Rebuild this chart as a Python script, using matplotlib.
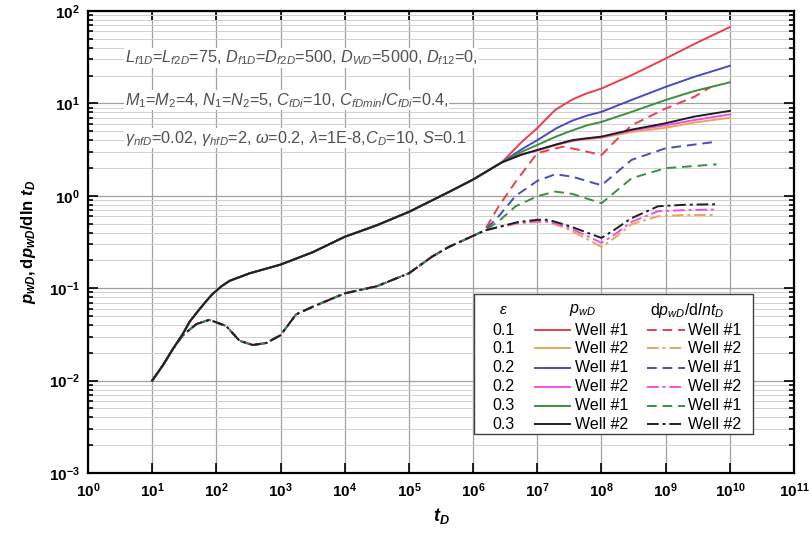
import matplotlib
matplotlib.use("Agg")
import matplotlib.pyplot as plt
from matplotlib.patches import Rectangle
from matplotlib.ticker import FuncFormatter
import numpy as np

plt.rcParams['font.family'] = ['Liberation Sans', 'DejaVu Sans']
plt.rcParams['mathtext.fontset'] = 'custom'
plt.rcParams['mathtext.rm'] = 'Liberation Sans'
plt.rcParams['mathtext.it'] = 'Liberation Sans:italic'
plt.rcParams['mathtext.bf'] = 'Liberation Sans:bold'
plt.rcParams['mathtext.bfit'] = 'Liberation Sans:bold:italic'

# early time part, identical for every case
tEarlyP = [10, 15, 21, 30, 38, 50, 70, 85, 100, 120, 160, 330, 1e3, 3.16e3, 1e4, 3.16e4, 1e5, 4.2e5, 1e6, 2.8e6]
pEarly = [0.010, 0.015, 0.022, 0.032, 0.043, 0.055, 0.073, 0.085, 0.094, 0.105, 0.12, 0.145, 0.18, 0.245, 0.36, 0.48, 0.67, 1.1, 1.5, 2.3]
tEarlyD = [10, 15, 21, 30, 49, 78, 142, 229, 369, 596, 1e3, 1.74e3, 3.16e3, 1e4, 3.16e4, 1e5, 2.3e5, 4.2e5, 8.5e5, 1.5e6]
dEarly = [0.010, 0.015, 0.022, 0.031, 0.041, 0.0455, 0.039, 0.027, 0.0243, 0.0255, 0.031, 0.052, 0.063, 0.088, 0.105, 0.145, 0.22, 0.28, 0.35, 0.42]

# late time pwD
tLateRed = [5.75e6, 1e7, 1.9e7, 3.5e7, 5.5e7, 1e8, 2.95e8, 1e9, 2.8e9, 1e10]
pRed = [3.85, 5.4, 8.5, 11.0, 12.6, 14.5, 20.2, 30.6, 44, 67]
tLateP = [5.75e6, 1e7, 2e7, 3.5e7, 6e7, 1e8, 2.95e8, 1e9, 2.8e9, 1e10]
pOrange = [2.8, 3.1, 3.55, 3.9, 4.1, 4.25, 4.9, 5.45, 6.2, 7.0]
pBlue = [3.2, 4.0, 5.4, 6.5, 7.4, 8.1, 10.9, 15.1, 19.4, 25.5]
pPink = [2.8, 3.1, 3.6, 3.95, 4.15, 4.3, 5.1, 5.8, 6.6, 7.6]
pGreen = [3.0, 3.55, 4.4, 5.1, 5.8, 6.3, 8.1, 10.9, 13.6, 16.9]
pBlack = [2.8, 3.13, 3.6, 4.0, 4.2, 4.37, 5.2, 6.1, 7.2, 8.3]

# late time derivative
tLateRedD = [2.5e6, 4.6e6, 1e7, 2.5e7, 4.9e7, 1e8, 1.6e8, 2.95e8, 1e9, 2.8e9, 5.1e9]
dRed = [0.77, 1.42, 2.9, 3.4, 3.1, 2.76, 3.85, 5.8, 8.8, 11.8, 15.1]
tLateD1 = [2.5e6, 4.6e6, 1e7, 1.9e7, 3.5e7, 1e8, 2.95e8, 1e9, 6.2e9]
dBlue = [0.60, 1.0, 1.45, 1.71, 1.61, 1.3, 2.45, 3.27, 3.85]
dGreen = [0.53, 0.77, 0.99, 1.11, 1.05, 0.83, 1.55, 1.99, 2.19]
tLateD2 = [2.5e6, 5e6, 1e7, 1.5e7, 3.16e7, 1e8, 1.6e8, 2.9e8, 7.6e8, 2e9, 6e9]
dOrange = [0.46, 0.50, 0.52, 0.52, 0.43, 0.28, 0.35, 0.49, 0.60, 0.62, 0.62]
dPink = [0.46, 0.51, 0.53, 0.53, 0.45, 0.31, 0.38, 0.52, 0.68, 0.70, 0.71]
dBlack = [0.46, 0.52, 0.55, 0.55, 0.47, 0.35, 0.43, 0.57, 0.77, 0.80, 0.81]

epsLabels = ["0.1", "0.1", "0.2", "0.2", "0.3", "0.3"]
wellLabels = ["Well #1", "Well #2", "Well #1", "Well #2", "Well #1", "Well #2"]
colors = ["#e8404a", "#f0a45a", "#4a4ac0", "#f050e0", "#3a9040", "#202020"]
dashStyles = [(0, (5, 3)), (0, (6, 2, 1.5, 2)), (0, (5, 3)), (0, (6, 2, 1.5, 2)), (0, (5, 3)), (0, (6, 2, 1.5, 2))]

pTails = [(tLateRed, pRed), (tLateP, pOrange), (tLateP, pBlue), (tLateP, pPink), (tLateP, pGreen), (tLateP, pBlack)]
dTails = [(tLateRedD, dRed), (tLateD2, dOrange), (tLateD1, dBlue), (tLateD2, dPink), (tLateD1, dGreen), (tLateD2, dBlack)]


def boldPow(v, pos):
    return "$\\mathbf{10^{%d}}$" % int(round(np.log10(v)))


fig = plt.figure(figsize=(8.09, 5.36), dpi=100)
ax = fig.add_axes([0.1088, 0.1175, 0.8727, 0.862])
ax.set_xscale("log")
ax.set_yscale("log")
ax.set_xlim(1, 1e11)
ax.set_ylim(1e-3, 1e2)

ax.grid(True, which="major", color="#a0a0a0", linewidth=0.9)
ax.grid(True, which="minor", color="#d0d0d0", linewidth=0.7)
ax.set_axisbelow(True)
ax.set_xticks([10.0 ** k for k in range(0, 12)])
ax.xaxis.set_major_formatter(FuncFormatter(boldPow))
ax.yaxis.set_major_formatter(FuncFormatter(boldPow))
ax.tick_params(which="both", direction="in", top=True, right=True, labelsize=11, width=1.2)
ax.tick_params(which="major", length=7, pad=6)
ax.tick_params(which="minor", length=3.5)
for sp in ax.spines.values():
    sp.set_linewidth(1.6)

for i in range(6):
    ax.plot(tEarlyD + dTails[i][0], dEarly + dTails[i][1], color=colors[i], linestyle=dashStyles[i], linewidth=1.4)
for i in range(6):
    ax.plot(tEarlyP + pTails[i][0], pEarly + pTails[i][1], color=colors[i], linestyle="-", linewidth=1.4)

ax.set_xlabel("$\\mathbfit{t_D}$", fontsize=13, labelpad=4)
ax.set_ylabel("$\\mathbfit{p_{wD}}$$\\mathbf{,d}$$\\mathbfit{p_{wD}}$$\\mathbf{/dln}$ $\\mathbfit{t_D}$", fontsize=12, labelpad=8)

txtBox = dict(facecolor="white", edgecolor="none", pad=0.5)
ax.text(0.052, 0.898, "$L_{f1D}$=$L_{f2D}$=75, $D_{f1D}$=$D_{f2D}$=500, $D_{WD}$=5000, $D_{f12}$=0,",
        transform=ax.transAxes, fontsize=11.7, color="#505050", va="center", bbox=txtBox)
ax.text(0.052, 0.807, "$M_1$=$M_2$=4, $N_1$=$N_2$=5, $C_{fDi}$=10, $C_{fDmin}$/$C_{fDi}$=0.4,",
        transform=ax.transAxes, fontsize=11.7, color="#505050", va="center", bbox=txtBox)
ax.text(0.052, 0.725, "$\\gamma_{nfD}$=0.02, $\\gamma_{hfD}$=2, $\\omega$=0.2, $\\lambda$=1E-8,$C_D$=10, $S$=0.1",
        transform=ax.transAxes, fontsize=11.7, color="#505050", va="center", bbox=txtBox)

# legend table
ax.add_patch(Rectangle((0.547, 0.0844), 0.395, 0.303, transform=ax.transAxes,
                       facecolor="white", edgecolor="#404040", linewidth=1.0, zorder=5))
ax.text(0.588, 0.3528, "$\\varepsilon$", transform=ax.transAxes, fontsize=11, ha="center", va="center", zorder=6)
ax.text(0.701, 0.3528, "$p_{wD}$", transform=ax.transAxes, fontsize=11.5, ha="center", va="center", zorder=6)
ax.text(0.848, 0.3528, "d$p_{wD}$/d$lnt_D$", transform=ax.transAxes, fontsize=11.5, ha="center", va="center", zorder=6)
rowY = [0.3095, 0.2699, 0.228, 0.1868, 0.1457, 0.1054]
for i in range(6):
    y = rowY[i]
    ax.text(0.588, y, epsLabels[i], transform=ax.transAxes, fontsize=11.5, ha="center", va="center", zorder=6)
    ax.plot([0.633, 0.683], [y, y], transform=ax.transAxes, color=colors[i], linewidth=1.4, zorder=6)
    ax.text(0.690, y, wellLabels[i], transform=ax.transAxes, fontsize=11.5, ha="left", va="center", zorder=6)
    ax.plot([0.792, 0.845], [y, y], transform=ax.transAxes, color=colors[i], linestyle=dashStyles[i], linewidth=1.4, zorder=6)
    ax.text(0.8495, y, wellLabels[i], transform=ax.transAxes, fontsize=11.5, ha="left", va="center", zorder=6)

fig.savefig("out.png", dpi=100)
